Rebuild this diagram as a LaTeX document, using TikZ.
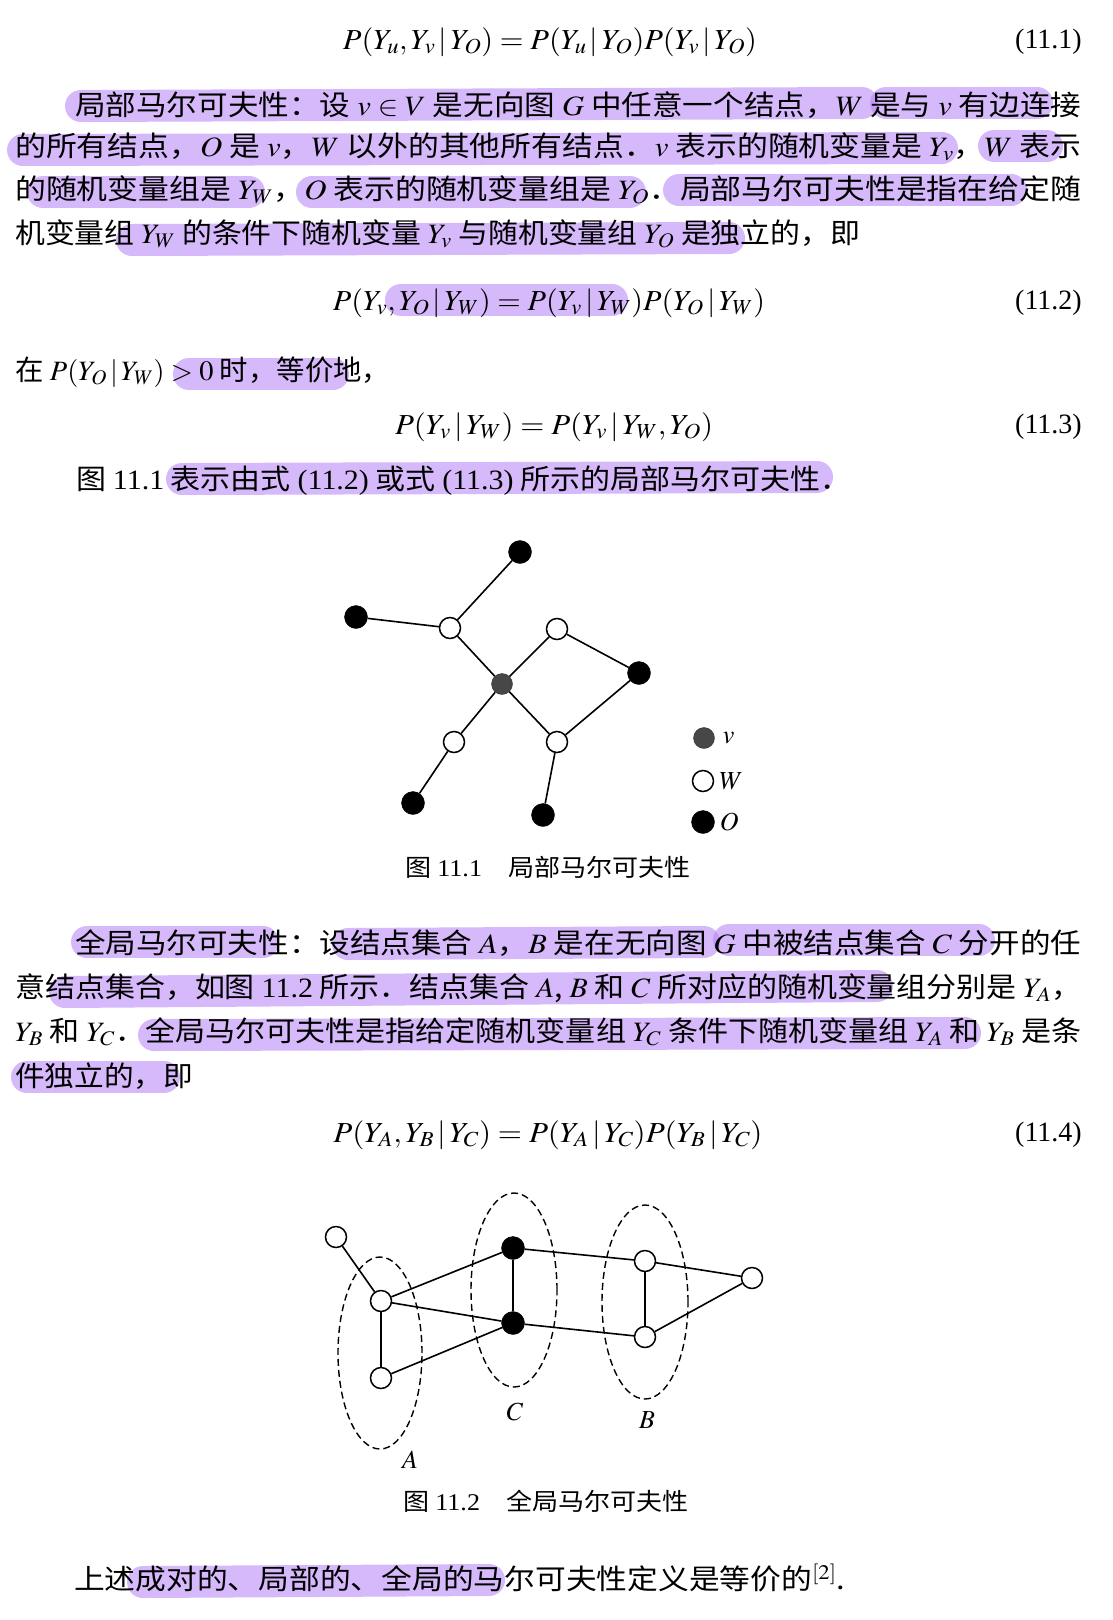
\documentclass[tikz,border=0pt]{standalone}
\usepackage{amsmath}
\usepackage{amssymb}
\usepackage{mathptmx}
\usepackage[no-math]{fontspec}
\setmainfont{Noto Sans CJK SC}
\newfontfamily\lat{Liberation Serif}
\usepackage{graphicx}
\usetikzlibrary{positioning}
\definecolor{hlc}{RGB}{182,128,246}
\newcommand{\wfit}[2]{\resizebox{#1pt}{\height}{#2}}

\begin{document}
\begin{tikzpicture}
  [x=1pt,y=-1pt,
   txt/.style={anchor=west,inner sep=0pt,font=\fontsize{28}{34}\selectfont},
   eqn/.style={inner sep=0pt,font=\fontsize{29}{34}\selectfont},
   tag/.style={anchor=east,inner sep=0pt,font=\lat\fontsize{28}{34}\selectfont},
   capt/.style={inner sep=0pt,font=\fontsize{24}{28}\selectfont},
   lab/.style={inner sep=0pt,font=\fontsize{26}{30}\selectfont},
   hl/.style={line width=32pt,line cap=round,draw=hlc,opacity=.55},
   wnode/.style={circle,draw=black,fill=white,line width=1.5pt,minimum size=21pt,inner sep=0pt},
   onode/.style={circle,draw=black,fill=black,minimum size=23pt,inner sep=0pt},
   vnode/.style={circle,draw=black!80,fill=black!72,minimum size=21pt,inner sep=0pt},
   link/.style={line width=1.6pt},
   setline/.style={dash pattern=on 7pt off 4pt,line width=1.4pt}]
  \useasboundingbox (0,0) rectangle (1112,1620);
  \fill[white] (0,0) rectangle (1112,1620);

  % highlights
  \draw[hl] (81,106) -- (862,103);
  \draw[hl] (886,103) -- (1037,103);
  \draw[hl] (23,150) -- (942,148);
  \draw[hl] (994,146) -- (1047,146);
  \draw[hl] (43,192) -- (249,192);
  \draw[hl] (312,192) -- (630,192);
  \draw[hl] (679,190) -- (1011,190);
  \draw[hl] (132,240) -- (729,238);
  \draw[hl] (401,300) -- (612,300);
  \draw[hl] (189,374) -- (333,374);
  \draw[hl] (182,479) -- (817,477);
  \draw[hl] (87,942) -- (263,942);
  \draw[hl] (348,944) -- (704,942);
  \draw[hl] (729,940) -- (979,940);
  \draw[hl] (65,992) -- (877,986);
  \draw[hl] (154,1035) -- (965,1033);
  \draw[hl] (27,1077) -- (164,1077);
  \draw[hl] (143,1582) -- (489,1580);

  \node[eqn] (e1) at (550,42) {\wfit{414}{$P(Y_u,Y_v\,|\,Y_O)=P(Y_u\,|\,Y_O)P(Y_v\,|\,Y_O)$}};
  \node[tag] (t1) at (1082,42) {(11.1)};

  \node[txt] (p1a) at (75,105) {\wfit{1006}{局部马尔可夫性：设 $v\in V$ 是无向图 $G$ 中任意一个结点，$W$ 是与 $v$ 有边连接}};
  \node[txt] (p1b) at (15,147) {\wfit{1066}{的所有结点，$O$ 是 $v$，$W$ 以外的其他所有结点．$v$ 表示的随机变量是 $Y_v$，$W$ 表示}};
  \node[txt] (p1c) at (15,190) {\wfit{1066}{的随机变量组是 $Y_W$，$O$ 表示的随机变量组是 $Y_O$．局部马尔可夫性是指在给定随}};
  \node[txt] (p1d) at (15,234) {\wfit{845}{机变量组 $Y_W$ 的条件下随机变量 $Y_v$ 与随机变量组 $Y_O$ 是独立的，即}};

  \node[eqn] (e2) at (549,303) {\wfit{432}{$P(Y_v,Y_O\,|\,Y_W)=P(Y_v\,|\,Y_W)P(Y_O\,|\,Y_W)$}};
  \node[tag] (t2) at (1082,303) {(11.2)};
  \node[txt] (p2) at (15,372) {\wfit{375}{在 $P(Y_O\,|\,Y_W)>0$ 时，等价地，}};
  \node[eqn] (e3) at (554,427) {\wfit{318}{$P(Y_v\,|\,Y_W)=P(Y_v\,|\,Y_W,Y_O)$}};
  \node[tag] (t3) at (1082,427) {(11.3)};
  \node[txt] (p3) at (76,481) {\wfit{774}{图 {\lat 11.1} 表示由式 {\lat (11.2)} 或式 {\lat (11.3)} 所示的局部马尔可夫性．}};

  % figure 11.1
  \node[onode] (o1) at (520,552) {};
  \node[onode] (o2) at (356,617) {};
  \node[wnode] (w1) at (450,628) {};
  \node[wnode] (w2) at (557,629) {};
  \node[onode] (o3) at (639,673) {};
  \node[vnode] (v) at (502,684) {};
  \node[wnode] (w3) at (454,742) {};
  \node[wnode] (w4) at (557,742) {};
  \node[onode] (o4) at (413,803) {};
  \node[onode] (o5) at (543,815) {};

  \foreach \from/\to in {o1/w1,o2/w1,w1/v,v/w2,w2/o3,o3/w4,v/w4,v/w3,w3/o4,w4/o5}
    \draw[link] (\from) -- (\to);

  \node[vnode] (kv) at (704,738) {};
  \node[wnode] (kw) at (703,781) {};
  \node[onode] (ko) at (703,822) {};
  \node[lab,right=8pt of kv] (kvl) {$v$};
  \node[lab,right=5pt of kw] (kwl) {$W$};
  \node[lab,right=5pt of ko] (kol) {$O$};

  \node[capt] (cap1) at (548,867) {\wfit{285}{图 {\lat 11.1}\quad 局部马尔可夫性}};

  \node[txt] (q1a) at (75,943) {\wfit{1006}{全局马尔可夫性：设结点集合 $A$，$B$ 是在无向图 $G$ 中被结点集合 $C$ 分开的任}};
  \node[txt] (q1b) at (15,988) {\wfit{1066}{意结点集合，如图 {\lat 11.2} 所示．结点集合 $A$, $B$ 和 $C$ 所对应的随机变量组分别是 $Y_A$，}};
  \node[txt] (q1c) at (15,1032) {\wfit{1066}{$Y_B$ 和 $Y_C$．全局马尔可夫性是指给定随机变量组 $Y_C$ 条件下随机变量组 $Y_A$ 和 $Y_B$ 是条}};
  \node[txt] (q1d) at (15,1076) {\wfit{178}{件独立的，即}};

  \node[eqn] (e4) at (548,1135) {\wfit{429}{$P(Y_A,Y_B\,|\,Y_C)=P(Y_A\,|\,Y_C)P(Y_B\,|\,Y_C)$}};
  \node[tag] (t4) at (1082,1135) {(11.4)};

  % figure 11.2
  \draw[setline] (380,1353) ellipse [x radius=42pt,y radius=96pt];
  \draw[setline] (514,1290) ellipse [x radius=43pt,y radius=97pt];
  \draw[setline] (645,1302) ellipse [x radius=43pt,y radius=97pt];

  \begin{scope}[every node/.append style={minimum size=18pt}]
  \node[wnode] (a0) at (336,1237) {};
  \node[wnode] (a1) at (381,1301) {};
  \node[wnode] (a2) at (381,1378) {};
  \node[onode] (c1) at (513,1248) {};
  \node[onode] (c2) at (513,1323) {};
  \node[wnode] (b1) at (645,1261) {};
  \node[wnode] (b2) at (645,1337) {};
  \node[wnode] (b0) at (752,1278) {};
  \end{scope}

  \foreach \from/\to in {a0/a1,a1/a2,a1/c1,a1/c2,a2/c2,c1/c2,c1/b1,c2/b2,b1/b2,b1/b0,b2/b0}
    \draw[link] (\from) -- (\to);

  \node[lab] (la) at (410,1460) {$A$};
  \node[lab] (lc) at (515,1412) {$C$};
  \node[lab] (lb) at (647,1420) {$B$};

  \node[capt] (cap2) at (546,1501) {\wfit{285}{图 {\lat 11.2}\quad 全局马尔可夫性}};

  \node[txt] (fin) at (74,1578) {\wfit{771}{上述成对的、局部的、全局的马尔可夫性定义是等价的$^{[2]}$.}};
\end{tikzpicture}
\end{document}
